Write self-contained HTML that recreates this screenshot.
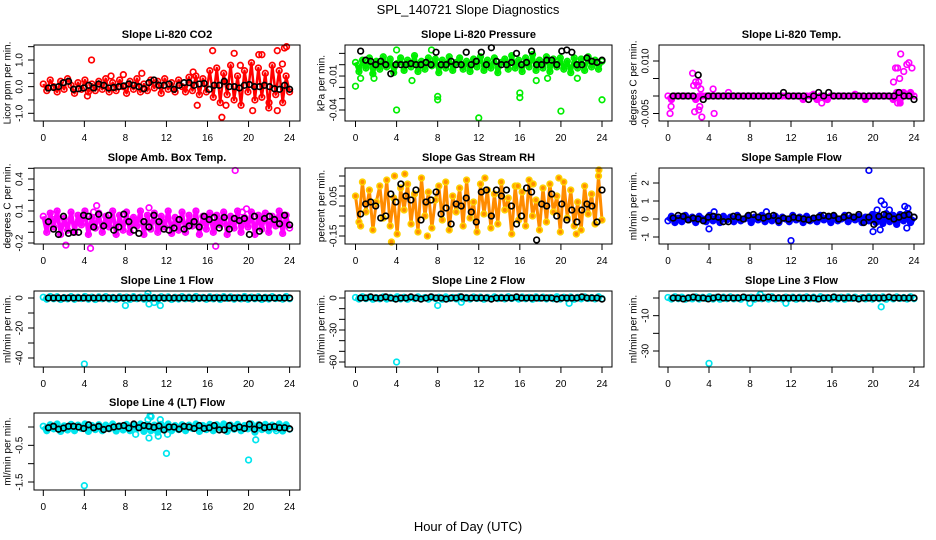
<!DOCTYPE html>
<html><head><meta charset="utf-8"><style>
body{margin:0;background:#fff;}
svg{display:block;font-family:"Liberation Sans",sans-serif;}
</style></head><body>
<svg id="chart" width="936" height="540" viewBox="0 0 936 540" xmlns="http://www.w3.org/2000/svg">
<rect x="0" y="0" width="936" height="540" fill="#fff"/>
<text x="468" y="14" text-anchor="middle" font-size="13">SPL_140721  Slope Diagnostics</text>
<text x="468" y="531" text-anchor="middle" font-size="13">Hour of Day (UTC)</text>
</svg>
<script>
// ---------- data ----------
const xTicks = [0,4,8,12,16,20,24];

const co2Color = [0.1,-0.15,0.25,0.0,-0.2,0.2,-0.1,0.3,0.05,-0.25,0.15,-0.1,0.25,-0.2,0.1,-0.15,0.2,-0.1,0.3,-0.2,0.15,-0.15,0.25,0.0,
 -0.25,0.2,-0.1,0.3,-0.2,0.1,-0.15,0.25,-0.05,0.2,-0.25,0.3,-0.1,0.15,-0.2,0.25,0.0,-0.2,0.35,-0.15,0.4,-0.3,0.3,-0.2,
 0.6,-0.4,0.7,-0.6,0.5,-0.3,0.8,-0.5,0.4,-0.7,0.6,-0.2,0.9,-0.5,0.7,-0.4,0.5,-0.8,0.8,-0.3,0.6,-0.6,0.4,-0.2];
const co2Black = [-0.05,-0.03,0.0,0.15,0.2,-0.1,-0.08,-0.05,0.05,-0.05,0.1,0.05,-0.05,-0.03,0.0,0.03,0.1,0.05,0.0,-0.08,0.15,0.25,0.05,0.05,0.1,-0.1,0.05,0.15,0.15,0.05,0.1,0.12,-0.1,0.05,0.05,0.2,0.0,0.0,-0.05,0.05,0.08,0.0,0.0,0.05,0.0,-0.08,-0.1,0.05,-0.1];
const co2OutX = [4.7,16.5,18.6,21,21.3,22.8,23.5,23.7,17.4,20.4,22.8,15,4.3,9.6,7.8,6.6,14.6,19.2,23.3,17.8,22];
const co2OutY = [1.0,1.35,1.25,1.2,1.2,1.35,1.45,1.5,-1.15,-0.9,-0.9,-0.7,-0.35,0.5,0.45,0.4,0.55,0.8,0.85,-0.7,-0.6];

const presColor = [0.002,-0.006,0.004,-0.003,0.006,-0.008,0.003,-0.004,0.007,-0.002,0.005,-0.007,0.001,0.006,-0.005,0.004,-0.002,0.008,-0.006,0.003,-0.004,0.006,-0.001,0.005,
 -0.007,0.004,-0.003,0.007,-0.005,0.002,0.006,-0.004,0.003,-0.006,0.005,-0.002,0.007,-0.005,0.004,-0.003,0.006,-0.007,0.002,0.005,-0.004,0.008,-0.003,0.004,
 -0.006,0.006,-0.002,0.009,-0.005,0.004,-0.003,0.007,-0.006,0.005,-0.002,0.006,-0.004,0.003,-0.007,0.006,-0.003,0.005,-0.005,0.007,-0.002,0.004,-0.004,0.003];
const presBlack = [0.012,0.004,0.003,0.0,0.003,0.0,-0.008,0.0,0.0,0.0,0.001,0.0,0.0,0.002,0.0,0.011,0.0,0.0,0.003,0.0,0.0,0.011,0.0,0.003,0.011,0.0,0.015,0.003,0.0,0.0,0.002,0.010,0.0,0.002,0.012,0.0,0.0,0.004,0.004,0.0,0.012,0.013,0.011,0.0,0.0,0.006,0.003,0.002,0.004];
const presOutX = [0,4,8,8,12,16,16,20,24,0.5,1.8,5.5,17.6,18.7,21.6,4,7.4];
const presOutY = [-0.019,-0.040,-0.028,-0.031,-0.047,-0.025,-0.029,-0.041,-0.031,-0.012,-0.012,-0.014,-0.014,-0.012,-0.012,0.013,0.013];

const tempColor = [0,-0.001,0,0,0,0,0,0,-0.001,0,0,0,0,0,0,0,0,0,0,0,0,0,0,0,
 0,0,0,0,0,0,0,0,0,0,0,0,0,0,0,-0.001,0,0,0.0005,-0.001,0,0,-0.001,0,
 0,0,0,0,0,0,0.0005,0,0,-0.001,0,0,0,0,0,0,0,-0.001,0.001,-0.002,0.001,0,0.001,0];
const tempBlack = [0,0,0,0,0,0.006,-0.001,0,0,0,0,0,0,0,0,0,0,0,0,0,0,0,0.001,0,0,0,0,-0.001,0,0.001,0,0.001,0,0,0,0,0,0,0,0,0,0,0,0,0,0.001,0,0,-0.001];
const tempOutX = [0.2,0.3,2.4,2.5,2.7,3.0,3.2,2.6,3.0,3.3,4.5,4.4,22,22.2,22.4,22.6,22.7,23.3,23.5,23.0,23.8,22.4,15,5.9,2.9,3.1];
const tempOutY = [-0.005,-0.003,0.0065,0.003,0.004,0.004,0.002,-0.0045,-0.004,-0.006,-0.005,0.002,0.004,0.008,0.008,0.005,0.012,0.009,0.0095,0.007,0.008,-0.002,-0.002,0.001,0.003,-0.003];

const ambColor = [0.05,-0.1,0.08,-0.05,0.1,-0.12,0.03,-0.08,0.09,-0.1,0.06,-0.03,0.1,-0.12,0.04,-0.06,0.08,-0.1,0.05,-0.05,0.1,-0.12,0.06,-0.08,
 0.09,-0.1,0.04,-0.04,0.1,-0.12,0.06,-0.07,0.08,-0.1,0.05,-0.05,0.1,-0.11,0.04,-0.08,0.09,-0.1,0.06,-0.04,0.1,-0.12,0.05,-0.07,
 0.08,-0.1,0.06,-0.03,0.09,-0.12,0.05,-0.06,0.1,-0.1,0.04,-0.05,0.09,-0.12,0.06,-0.07,0.08,-0.1,0.05,-0.04,0.1,-0.11,0.06,-0.06];
const ambBlack = [0.0,-0.07,-0.12,0.05,-0.11,-0.1,-0.1,0.06,0.05,-0.05,0.07,-0.04,0.06,-0.08,-0.05,0.07,0.0,-0.08,-0.11,0.0,-0.05,0.06,0.0,-0.07,-0.08,-0.06,0.02,-0.07,-0.04,0.0,-0.05,0.05,0.02,0.04,-0.06,0.04,-0.07,0.03,0.01,0.03,-0.12,0.05,-0.09,0.03,0.05,0.02,-0.02,0.06,-0.03];
const ambOutX = [18.7,19.8,5.2,4.9,4.6,16.8,2.2,10.3,0.9,19.4];
const ambOutY = [0.48,0.12,0.15,0.09,-0.25,-0.23,-0.22,0.13,0.07,0.09];

const rhColor = [0.05,-0.08,0.12,-0.03,0.08,-0.12,0.02,0.1,-0.06,0.13,-0.1,0.04,-0.14,0.09,-0.02,0.11,-0.09,0.06,-0.13,0.14,-0.05,0.07,-0.11,0.03,
 0.1,-0.07,0.12,-0.12,0.05,-0.03,0.09,-0.1,0.13,-0.06,0.02,-0.13,0.11,-0.04,0.08,-0.11,0.06,-0.09,0.12,-0.02,0.04,-0.14,0.1,-0.07,
 0.07,-0.1,0.13,-0.05,0.03,-0.12,0.09,-0.08,0.11,-0.03,0.05,-0.13,0.12,-0.06,0.08,-0.1,0.02,-0.12,0.1,-0.04,0.06,-0.09,0.15,-0.07];
const rhBlack = [-0.04,0.01,0.02,0.0,-0.06,-0.05,0.06,0.02,0.11,0.05,0.03,0.08,-0.07,0.02,0.03,0.07,-0.04,-0.01,-0.09,0.01,0.0,0.04,-0.03,-0.08,0.07,0.08,-0.05,0.08,0.05,0.08,0.0,-0.09,-0.05,0.09,0.07,-0.17,0.01,0.0,0.06,-0.05,0.01,-0.07,-0.02,-0.08,-0.02,0.01,0.0,-0.08,0.08];
const rhOutX = [3.5,4.8,15.8,19.8,23.7,3.8,0.5,12.6,17.3,21.5,7.0];
const rhOutY = [-0.18,0.16,0.1,0.14,0.18,0.15,-0.1,0.14,0.11,-0.14,-0.15];

const flowColor = [-0.1,0.15,-0.2,0.05,-0.15,0.2,-0.05,0.1,-0.2,0.15,0.0,-0.15,0.2,-0.1,0.05,-0.2,0.15,-0.05,0.1,-0.15,0.2,-0.1,0.0,0.15,
 -0.2,0.1,-0.05,0.2,-0.15,0.05,-0.1,0.15,-0.2,0.1,0.0,-0.15,0.2,-0.05,0.1,-0.2,0.15,-0.1,0.05,-0.15,0.2,-0.05,0.1,-0.2,
 0.15,-0.1,0.0,0.2,-0.15,0.1,-0.05,0.15,-0.2,0.1,-0.1,0.25,-0.2,0.15,-0.25,0.3,-0.15,0.2,-0.3,0.25,-0.1,0.3,-0.2,0.1];
const flowBlack = [0.05,0.2,0.15,-0.05,0.05,0.0,-0.1,0.1,0.15,0.1,-0.15,-0.15,0.15,0.1,0.0,0.2,0.25,0.1,0.05,0.15,0.2,-0.1,0.05,0.0,0.1,0.05,0.0,-0.05,0.05,0.1,0.2,0.15,0.2,0.0,0.1,0.2,0.1,0.25,-0.2,0.1,-0.3,0.15,0.25,0.15,0.0,0.1,0.2,0.25,0.1];
const flowOutX = [19.6,12,20,20.8,21.1,20.4,23.1,23.4,4,4.5,9.6,20.7,23.3,21.6];
const flowOutY = [2.7,-1.2,-0.7,1.0,0.8,0.5,0.7,0.6,-0.55,0.4,0.4,-0.6,-0.5,0.5];

const line1Color = [0.5,-0.8,1.0,-0.5,0.8,-1.0,0.3,-0.6,0.9,-0.9,0.5,-0.4,1.0,-0.8,0.6,-1.0,0.7,-0.5,0.9,-0.7,0.4,-0.9,0.8,-0.3,
 0.6,-1.0,0.9,-0.5,0.5,-0.8,1.0,-0.6,0.3,-0.9,0.8,-0.4,0.7,-1.0,0.5,-0.7,0.9,-0.5,0.6,-0.8,1.0,-0.4,0.4,-0.9,
 0.8,-0.6,0.5,-1.0,0.9,-0.3,0.7,-0.8,0.4,-0.6,1.0,-0.9,0.6,-0.5,0.8,-1.0,0.5,-0.7,0.9,-0.4,0.3,-0.8,1.0,-0.5];
const line1Black = [0,0,0,0,0,0,0,0,0,0,0,0,0,0,0,0,0,0,0,0,0,0,0,0,0,0,0,0,0,0,0,0,0,0,0,0,0,0,0,0,0,0,0,0,0,0,0,0,0];
const line1OutX = [4,8,10.2,10.3,11.4,10.8];
const line1OutY = [-44,-5,3,-4,-5,-3];

const line2Color = [0.5,-1.0,1.2,-0.6,0.8,-1.2,0.3,-0.8,1.0,-1.0,0.6,-0.5,1.2,-0.9,0.7,-1.2,0.8,-0.6,1.0,-0.8,0.5,-1.1,0.9,-0.4,
 0.7,-1.2,1.0,-0.6,0.6,-0.9,1.2,-0.7,0.4,-1.0,0.9,-0.5,0.8,-1.2,0.6,-0.8,1.0,-0.6,0.7,-0.9,1.2,-0.5,0.5,-1.0,
 0.9,-0.7,0.6,-1.2,1.0,-0.4,0.8,-0.9,0.5,-0.7,1.2,-1.0,0.7,-0.6,0.9,-1.2,0.6,-0.8,1.0,-0.5,0.4,-0.9,1.2,-0.6];
const line2Black = [0,0,1,0,0,1,0,-1,0,0,1,0,-1,0,1,0,0,-1,0,0,1,0,0,0,0,0,-1,0,0,0,0,1,0,0,0,0,0,0,0,-1,0,0,0,0,1,0,0,0,-1];
const line2OutX = [4,8,10.3,20.8];
const line2OutY = [-60,-7,-4,-5];

const line3Color = [0.3,-0.6,0.7,-0.4,0.5,-0.7,0.2,-0.5,0.6,-0.6,0.4,-0.3,0.7,-0.6,0.4,-0.7,0.5,-0.4,0.6,-0.5,0.3,-0.7,0.5,-0.2,
 0.4,-0.7,0.6,-0.4,0.4,-0.6,0.7,-0.5,0.2,-0.6,0.5,-0.3,0.5,-0.7,0.4,-0.5,0.6,-0.4,0.5,-0.6,0.7,-0.3,0.3,-0.6,
 0.6,-0.5,0.4,-0.7,0.6,-0.3,0.5,-0.6,0.3,-0.5,0.7,-0.6,0.4,-0.4,0.6,-0.7,0.4,-0.5,0.6,-0.3,0.3,-0.6,0.7,-0.4];
const line3Black = [0,0,-0.5,0,0.5,0,0,-0.5,0,0.5,0,0,0,0,0.5,0,0,0,0,0.5,0,0,0,0,0,0,0,0,0,-0.5,0,0,0.5,0,0,0,0,-0.5,0,0,0,0,0,0.5,0,0,0,0,0];
const line3OutX = [4,8,20.8,11.5,9];
const line3OutY = [-37,-3,-5,-3,2];

const line4Color = [0.02,-0.1,0.06,-0.05,0.08,-0.12,0.03,-0.08,0.07,-0.1,0.05,-0.04,0.08,-0.12,0.04,-0.07,0.06,-0.1,0.05,-0.05,0.08,-0.11,0.03,-0.08,
 0.07,-0.1,0.04,-0.04,0.08,-0.12,0.06,-0.1,0.05,-0.14,0.07,-0.05,0.08,-0.1,0.04,-0.07,0.06,-0.1,0.05,-0.04,0.08,-0.12,0.04,-0.07,
 0.07,-0.1,0.06,-0.03,0.08,-0.12,0.05,-0.06,0.07,-0.1,0.04,-0.05,0.08,-0.14,0.06,-0.07,0.07,-0.1,0.05,-0.04,0.08,-0.11,0.06,-0.06];
const line4Black = [-0.02,0.02,-0.06,-0.03,0.02,0.02,0.0,-0.04,0.06,-0.02,0.02,-0.07,-0.04,0.0,0.02,0.04,-0.03,0.08,-0.02,0.04,0.02,-0.01,0.03,-0.08,0.0,0.0,-0.06,0.02,0.0,-0.04,0.04,-0.04,-0.02,0.04,-0.08,-0.08,0.04,-0.04,0.0,-0.04,0.08,-0.06,0.05,-0.02,0.0,0.01,-0.02,-0.02,-0.05];
const line4OutX = [4,20,12,10.4,10.5,10.2,11.4,10.3,11.2,20.7,9,22.7,12.1];
const line4OutY = [-1.6,-0.9,-0.72,0.3,0.28,0.2,0.2,-0.3,-0.25,-0.35,-0.2,-0.1,-0.2];

// ---------- panel layout ----------
const COLS = [{bx0:34,bx1:300,x0:43.3,x24:289.6,yl:8,tl:20},
              {bx0:345,bx1:612,x0:355.5,x24:602,yl:322,tl:334},
              {bx0:659,bx1:924,x0:668,x24:914,yl:634,tl:646}];
const ROWS = [{y0:45,y1:121},{y0:168,y1:244},{y0:291,y1:367},{y0:413,y1:490}];

const panels = [
 {name:'co2',title:'Slope Li-820 CO2',ylab:'Licor ppm per min.',c:0,r:0,col:'#ff0000',band:2.5,
  cal:[1.0,60,-1.0,113.3],ticks:[1.5,1.0,0.5,0,-0.5,-1.0],labels:{'1':'1.0','0':'0.0','-1':'-1.0'},
  color:co2Color,black:co2Black,ox:co2OutX,oy:co2OutY},
 {name:'pressure',title:'Slope Li-820 Pressure',ylab:'kPa per min.',c:1,r:0,col:'#00ee00',band:4,
  cal:[0,64.7,-0.04,110],ticks:[0.01,0,-0.01,-0.02,-0.03,-0.04],labels:{'-0.01':'-0.01','-0.04':'-0.04'},
  color:presColor,black:presBlack,ox:presOutX,oy:presOutY},
 {name:'li820-temp',title:'Slope Li-820 Temp.',ylab:'degrees C per min.',c:2,r:0,col:'#ff00ff',band:5,
  cal:[0.010,61,0,96],ticks:[0.010,0.005,0,-0.005],labels:{'0.01':'0.010','-0.005':'-0.005'},
  color:tempColor,black:tempBlack,ox:tempOutX,oy:tempOutY},
 {name:'amb-box-temp',title:'Slope Amb. Box Temp.',ylab:'degrees C per min.',c:0,r:1,col:'#ff00ff',band:4,
  cal:[0.4,179,-0.2,243],ticks:[0.5,0.4,0.3,0.2,0.1,0,-0.1,-0.2],labels:{'0.4':'0.4','0.1':'0.1','-0.2':'-0.2'},
  color:ambColor,black:ambBlack,ox:ambOutX,oy:ambOutY},
 {name:'gas-stream-rh',title:'Slope Gas Stream RH',ylab:'percent per min.',c:1,r:1,col:'#ffd000',fill:'#ff8c00',band:3,
  cal:[0.05,196,-0.15,236],ticks:[0.15,0.1,0.05,0,-0.05,-0.1,-0.15],labels:{'0.05':'0.05','-0.15':'-0.15'},
  color:rhColor,black:rhBlack,ox:rhOutX,oy:rhOutY},
 {name:'sample-flow',title:'Slope Sample Flow',ylab:'ml/min per min.',c:2,r:1,col:'#0000ff',band:6,
  cal:[2,183,-1,237],ticks:[2,1,0,-1],labels:{'2':'2','1':'1','0':'0','-1':'-1'},
  color:flowColor,black:flowBlack,ox:flowOutX,oy:flowOutY},
 {name:'line1-flow',title:'Slope Line 1 Flow',ylab:'ml/min per min.',c:0,r:2,col:'#00e5ee',band:6,
  cal:[0,298,-40,358],ticks:[0,-10,-20,-30,-40],labels:{'0':'0','-20':'-20','-40':'-40'},
  color:line1Color,black:line1Black,ox:line1OutX,oy:line1OutY},
 {name:'line2-flow',title:'Slope Line 2 Flow',ylab:'ml/min per min.',c:1,r:2,col:'#00e5ee',band:6,
  cal:[0,298,-60,362],ticks:[0,-10,-20,-30,-40,-50,-60],labels:{'0':'0','-30':'-30','-60':'-60'},
  color:line2Color,black:line2Black,ox:line2OutX,oy:line2OutY},
 {name:'line3-flow',title:'Slope Line 3 Flow',ylab:'ml/min per min.',c:2,r:2,col:'#00e5ee',band:6,
  cal:[0,298,-30,351],ticks:[0,-10,-20,-30],labels:{'-10':'-10','-30':'-30'},
  color:line3Color,black:line3Black,ox:line3OutX,oy:line3OutY},
 {name:'line4-flow',title:'Slope Line 4 (LT) Flow',ylab:'ml/min per min.',c:0,r:3,col:'#00e5ee',band:6,
  cal:[0,427,-1.5,482],ticks:[0,-0.5,-1,-1.5],labels:{'-0.5':'-0.5','-1.5':'-1.5'},
  color:line4Color,black:line4Black,ox:line4OutX,oy:line4OutY}
];

const NS='http://www.w3.org/2000/svg';
const svg=document.getElementById('chart');
function mk(tag,attrs,parent){const e=document.createElementNS(NS,tag);for(const k in attrs)e.setAttribute(k,attrs[k]);(parent||svg).appendChild(e);return e;}

panels.forEach(p=>{
  const C=COLS[p.c],R=ROWS[p.r];
  const xs=h=>C.x0+(C.x24-C.x0)*h/24;
  const ys=v=>p.cal[1]+(v-p.cal[0])*(p.cal[3]-p.cal[1])/(p.cal[2]-p.cal[0]);
  const g=mk('g',{});
  
  
  const t=mk('text',{x:(C.bx0+C.bx1)/2,y:R.y0-7,'text-anchor':'middle','font-size':'11','font-weight':'bold'},g);
  t.textContent=p.title;
  
  
  const yl=mk('text',{x:C.yl,y:(R.y0+R.y1)/2,'text-anchor':'middle','font-size':'10',transform:`rotate(-90 ${C.yl} ${(R.y0+R.y1)/2})`,'dominant-baseline':'middle'},g);
  yl.textContent=p.ylab;
  
  
  const pts=mk('g',{},g);
  
  
  const nC=p.color.length;
  const bandPts=p.color.map((v,i)=>xs(i*24/(nC-1)).toFixed(1)+','+ys(v).toFixed(1)).join(' ');
  const band=mk('polyline',{points:bandPts,fill:'none',stroke:p.fill||p.col,'stroke-width':p.band,'stroke-linejoin':'round'},pts);
  
  
  p.color.forEach((v,i)=>{
    const c=mk('circle',{cx:xs(i*24/(nC-1)),cy:ys(v),r:2.8,fill:p.fill||'none',stroke:p.col,'stroke-width':1.7},pts);
    
    
  });
  p.ox.forEach((h,i)=>{
    const c=mk('circle',{cx:xs(h),cy:ys(p.oy[i]),r:2.8,fill:p.fill||'none',stroke:p.col,'stroke-width':1.7},pts);
    
    
  });
  const nB=p.black.length;
  p.black.forEach((v,i)=>{
    const c=mk('circle',{cx:xs(0.5+i*23.5/(nB-1)),cy:ys(v),r:2.8,fill:'none',stroke:'#000','stroke-width':1.7},pts);
    
    
  });
  const box=mk('rect',{x:C.bx0,y:R.y0,width:C.bx1-C.bx0,height:R.y1-R.y0,fill:'none',stroke:'#000','stroke-width':1},g);
  
  
  xTicks.forEach(h=>{
    mk('line',{x1:xs(h),x2:xs(h),y1:R.y1,y2:R.y1+6,stroke:'#000'},g);
    const tl=mk('text',{x:xs(h),y:R.y1+20,'text-anchor':'middle','font-size':'10'},g);
    tl.textContent=h;
    
    
  });
  p.ticks.forEach(v=>{
    mk('line',{x1:C.bx0-6,x2:C.bx0,y1:ys(v),y2:ys(v),stroke:'#000'},g);
    const key=String(v);
    if(p.labels[key]!==undefined){
      const yy=ys(v);
      const tl=mk('text',{x:C.tl,y:yy,'text-anchor':'middle','font-size':'10','dominant-baseline':'middle',transform:`rotate(-90 ${C.tl} ${yy})`},g);
      tl.textContent=p.labels[key];
      
      
    }
  });
});
</script>
</body></html>
